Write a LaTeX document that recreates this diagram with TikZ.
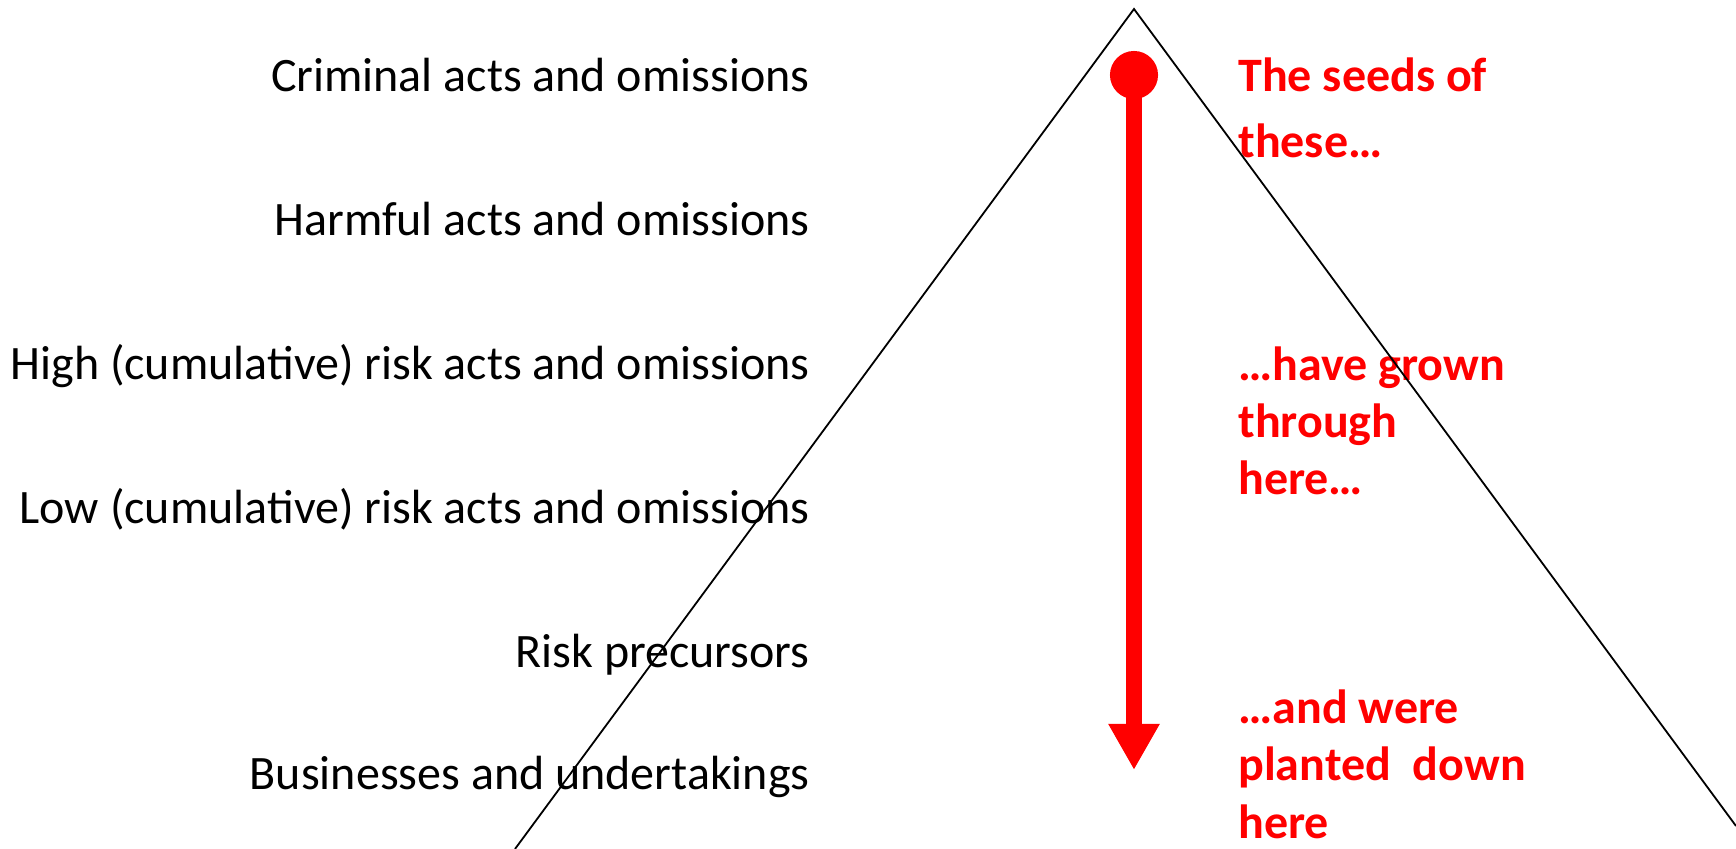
\documentclass[tikz,border=0pt]{standalone}
\usepackage{fontspec}
\setmainfont{Carlito}
\usetikzlibrary{arrows.meta, positioning}
\tikzstyle{level} = [anchor=base east, inner sep=0pt, font=\fontsize{24}{29}\selectfont]
\tikzstyle{seedtext} = [anchor=base west, inner sep=0pt, align=left, text=red, font=\fontsize{24}{28.7}\selectfont\bfseries]
\tikzstyle{edge} = [line width=0.9pt, black]
\tikzstyle{growth} = [line width=8pt, red, {Circle[length=24pt]}-{Triangle[width=24pt,length=23pt]}]

\begin{document}
\begin{tikzpicture}[x=0.5pt, y=-0.5pt, node distance=72pt]
\useasboundingbox (0,0) rectangle (1736,849);

        % levels of the pyramid
        \node (criminal) [level] at (810,92) {Criminal acts and omissions};
        \node (harmful) [level, below=of criminal.base east, anchor=base east] {Harmful acts and omissions};
        \node (highrisk) [level, below=of harmful.base east, anchor=base east] {High (cumulative) risk acts and omissions};
        \node (lowrisk) [level, below=of highrisk.base east, anchor=base east] {Low (cumulative) risk acts and omissions};
        \node (precursors) [level, below=of lowrisk.base east, anchor=base east] {Risk precursors};
        \node (business) [level, below=61pt of precursors.base east, anchor=base east] {Businesses and undertakings};

        % red notes (base is the last line)
        \node (seeds) [seedtext, font=\fontsize{24}{33}\selectfont\bfseries] at (1238,158) {The seeds of\\these\ldots};
        \node (grown) [seedtext] at (1238,495) {\ldots have grown\\through\\here\ldots};
        \node (planted) [seedtext] at (1238,838) {\ldots and were\\planted~ down\\here};

        % pyramid
        \coordinate (apex) at (1134,9);
        \coordinate (baseL) at (515,849);
        \coordinate (baseR) at (1736,826);
        \draw [edge] (baseL) -- (apex) -- (baseR);

        % arrow from top to bottom
        \coordinate (seedtop) at (1134,51);
        \coordinate (rootend) at (1134,770);
        \draw [growth] (seedtop) -- (rootend);

\end{tikzpicture}
\end{document}
